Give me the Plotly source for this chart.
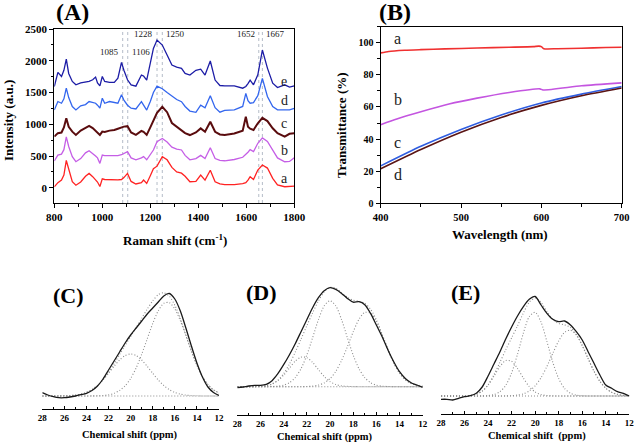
import plotly.graph_objects as go

W, H = 636, 447
SERIF = "Liberation Serif, Times New Roman, serif"

# ---------------- Panel A: Raman spectra ----------------
RAMAN_SHIFT = [800, 815, 830, 840, 850, 860, 875, 890, 910, 930,
               945, 960, 972, 980, 990, 1000, 1010, 1030, 1050, 1065,
               1080, 1090, 1105, 1120, 1140, 1163, 1172, 1185, 1200, 1213,
               1228, 1250, 1270, 1290, 1310, 1330, 1345, 1365, 1390, 1410,
               1428, 1450, 1470, 1490, 1510, 1550, 1585, 1598, 1607, 1616,
               1630, 1648, 1667, 1688, 1710, 1730, 1760, 1780, 1800]
RAMAN_A = [15, 80, 120, 200, 430, 300, 95, 40, 90, 180,
           225, 175, 120, 90, 20, 140, 130, 125, 120, 125,
           130, 160, 226, 100, 60, 80, 121, 68, 190, 300,
           340, 490, 440, 320, 250, 230, 180, 95, 100, 200,
           121, 275, 95, 60, 50, 50, 65, 80, 120, 174,
           130, 279, 358, 310, 147, 45, 16, 20, 26]
RAMAN_B = [421, 515, 530, 600, 800, 650, 490, 410, 460, 550,
           584, 545, 500, 470, 384, 515, 505, 505, 500, 505,
           520, 540, 568, 470, 440, 470, 490, 440, 530, 594,
           726, 775, 720, 640, 610, 595, 510, 440, 460, 510,
           462, 630, 460, 430, 425, 445, 480, 520, 560, 600,
           570, 700, 785, 730, 595, 470, 410, 415, 474]
RAMAN_C = [805, 860, 870, 950, 1095, 960, 884, 832, 900, 950,
           974, 940, 900, 870, 832, 884, 880, 900, 910, 930,
           950, 963, 970, 870, 832, 894, 880, 832, 950, 1066,
           1180, 1276, 1190, 1020, 960, 900, 860, 830, 870, 935,
           882, 1040, 882, 840, 830, 855, 900, 1118, 960, 930,
           910, 1016, 1100, 1050, 937, 858, 805, 850, 858]
RAMAN_D = [1226, 1358, 1331, 1400, 1568, 1420, 1279, 1226, 1290, 1310,
           1358, 1345, 1331, 1300, 1253, 1410, 1331, 1358, 1340, 1331,
           1463, 1380, 1300, 1253, 1240, 1355, 1300, 1224, 1358, 1500,
           1600, 1560, 1500, 1440, 1390, 1355, 1280, 1208, 1187, 1302,
           1260, 1449, 1260, 1190, 1220, 1226, 1280, 1487, 1370, 1331,
           1340, 1450, 1723, 1437, 1279, 1226, 1226, 1226, 1250]
RAMAN_E = [1595, 1816, 1752, 1850, 2026, 1800, 1674, 1621, 1650, 1658,
           1674, 1700, 1742, 1650, 1605, 1752, 1674, 1660, 1660, 1726,
           1974, 1850, 1700, 1621, 1600, 1775, 1760, 1696, 1985, 2195,
           2326, 2247, 2090, 1932, 1900, 1880, 1800, 1775, 1850, 1868,
           1775, 1996, 1696, 1610, 1605, 1605, 1568, 1595, 1640, 1696,
           1621, 1779, 2169, 1884, 1647, 1579, 1621, 1584, 1605]
RAMAN_SERIES = ["a", "b", "c", "d", "e"]
RAMAN_LABEL_Y = [150, 580, 1005, 1380, 1670]
PEAK_POS = [1085, 1106, 1228, 1250, 1652, 1667]
PEAK_LABEL_Y = [2137, 2137, 2421, 2421, 2421, 2421]

# ---------------- Panel B: transmittance ----------------
WL_A = [400, 410, 430, 450, 480, 520, 560, 590, 597, 600, 603, 620, 650, 680, 700]
T_A = [93.7, 94.6, 95.3, 95.7, 96.2, 96.7, 97.2, 97.6, 97.9, 97.6, 96.3, 96.3, 96.6, 97.0, 97.2]
WL_B = [400, 420, 450, 485, 520, 560, 598, 602, 650, 700]
T_B = [49, 52.5, 57, 61.8, 65.5, 69, 71.3, 70.6, 73.2, 75]
WL_CD = [400, 450, 500, 550, 600, 650, 700]
T_C = [23.3, 35.5, 46, 55, 62.5, 68, 72.7]
T_D = [21.5, 33.5, 44.3, 53.5, 61, 67, 71.8]
B_LABEL_X = 421
B_LABEL_Y = [102.4, 64.4, 37.6, 18.2]

# ---------------- Panels C, D, E: 13C NMR ----------------
PPM = [28, 27.5, 27, 26.5, 26, 25.5, 25, 24.5, 24, 23.5, 23, 22.5, 22, 21.5, 21,
       20.5, 20, 19.5, 19, 18.5, 18, 17.5, 17, 16.5, 16, 15.5, 15, 14.5, 14,
       13.5, 13, 12.5, 12]

C_SOLID = [3.3, 1.0, -0.7, -1.7, -1.7, -1.0, 0.0, 1.3, 2.7, 5.5, 10, 17, 26, 35, 44,
           53, 61, 68, 75, 82, 88, 94, 100, 102.5, 97, 85, 68, 50, 33, 19, 9, 3.5, 0.5]
C_P1 = [0, 0, 0, 0, 0.2, 0.4, 0.9, 1.9, 3.6, 6.4, 10.5, 16.1, 22.7, 29.7, 36,
        40.4, 42, 40.4, 36, 29.7, 22.7, 16.1, 10.5, 6.4, 3.6, 1.9, 0.9, 0.4, 0.2, 0, 0, 0, 0]
C_P2 = [0, 0, 0, 0, 0, 0, 0, 0, 0, 0.1, 0.2, 0.5, 1.2, 2.7, 5.5,
        10.2, 17.6, 28.1, 41.7, 57.1, 72.5, 85.2, 92.7, 93.4, 87.2, 75.3, 60.3, 44.6, 30.6,
        19.5, 11.4, 6.2, 3.1]
C_FIT = [0, 0, 0, 0, 0.2, 0.4, 0.9, 1.9, 3.6, 6.5, 10.7, 16.6, 23.9, 32.4, 41.5,
         50.6, 59.6, 68.5, 77.7, 86.8, 95.2, 101.3, 103.2, 99.8, 90.8, 77.2, 61.2, 45, 30.8,
         19.5, 11.4, 6.2, 3.1]

D_SOLID = [-1, -0.3, 0.7, 1.3, 1.3, 2.3, 6, 13, 22, 32, 43, 55, 67, 79, 89,
           96, 99, 97.3, 93.3, 88.3, 84.5, 85, 82, 73.3, 61.7, 50, 36.7, 25, 15,
           8.3, 4, 1.7, -0.7]
D_P1 = [0, 0, 0, 0.1, 0.3, 1, 2.6, 6, 11.5, 18.6, 25.5, 29.6, 29.1, 24.2, 17.1,
        10.2, 5.1, 2.2, 0.8, 0.3, 0.1, 0, 0, 0, 0, 0, 0, 0, 0, 0, 0, 0, 0]
D_P2 = [0, 0, 0, 0, 0, 0, 0.2, 0.5, 1.6, 4, 9.1, 18, 31.6, 49, 67,
        80.8, 86, 80.8, 67, 49, 31.6, 18, 9.1, 4, 1.6, 0.5, 0.2, 0, 0, 0, 0, 0, 0]
D_P3 = [0, 0, 0, 0, 0, 0, 0, 0, 0, 0, 0, 0, 0.2, 0.6, 1.6,
        3.8, 8.1, 15.4, 26.2, 40, 54.8, 67.4, 74.3, 73.5, 65.3, 52, 37.1, 23.8, 13.6,
        7, 3.3, 1.3, 0.5]
D_FIT = [0, 0, 0, 0.1, 0.3, 1, 2.8, 6.5, 13.1, 22.6, 34.6, 47.6, 60.9, 73.8, 85.7,
         94.8, 99.2, 98.4, 94, 89.3, 86.5, 85.4, 83.4, 77.5, 66.9, 52.5, 37.3, 23.8, 13.6,
         7, 3.3, 1.3, 0.5]

E_SOLID = [-3.3, -3.3, -4, -2.3, -0.7, 0.3, 2.7, 9, 20, 32, 44, 57, 69, 80, 89.3,
           96.7, 99.5, 91, 82.7, 76.7, 74.3, 75, 71, 64.3, 56, 44.3, 32.7, 21, 11,
           7.7, 4.3, 2.7, 0]
E_P1 = [0, 0, 0, 0, 0.1, 0.5, 1.7, 4.8, 10.8, 19.8, 29.3, 35.4, 34.7, 27.5, 17.9,
        9.4, 4, 1.4, 0.4, 0.1, 0, 0, 0, 0, 0, 0, 0, 0, 0, 0, 0, 0, 0]
E_P2 = [0, 0, 0, 0, 0, 0, 0, 0.1, 0.4, 1.4, 4.2, 10.7, 23.1, 41.7, 62.9,
        79.3, 83.7, 73.9, 54.5, 33.7, 17.4, 7.5, 2.7, 0.8, 0.2, 0, 0, 0, 0, 0, 0, 0, 0]
E_P3 = [0, 0, 0, 0, 0, 0, 0, 0, 0, 0, 0, 0.1, 0.3, 0.9, 2.2,
        5.1, 10.2, 18.3, 29.6, 42.7, 55.1, 63.7, 65.9, 60.9, 50.4, 37.4, 24.8, 14.7, 7.8,
        3.7, 1.6, 0.6, 0.2]
E_FIT = [0, 0, 0, 0, 0.1, 0.5, 1.7, 4.9, 11.2, 21.2, 33.5, 46.2, 58.1, 70.1, 83,
         93.8, 97.9, 93.6, 84.5, 76.5, 72.5, 71.2, 68.6, 61.7, 50.6, 37.4, 24.8, 14.7, 7.8,
         3.7, 1.6, 0.6, 0.2]
BASELINE_X = [28, 12]
BASELINE_Y = [0, 0]
PPM_TICKS = [28, 26, 24, 22, 20, 18, 16, 14, 12]

# ---------------- figure ----------------
fig = go.Figure()

raman_colors = ["#ff2222", "#c55ee6", "#5a0c0e", "#3366ee", "#1c1ca6"]
raman_widths = [1.3, 1.3, 2.0, 1.3, 1.3]
for ys, col, lw in zip([RAMAN_A, RAMAN_B, RAMAN_C, RAMAN_D, RAMAN_E], raman_colors, raman_widths):
    fig.add_trace(go.Scatter(x=RAMAN_SHIFT, y=ys, mode="lines", xaxis="x", yaxis="y",
                             line=dict(color=col, width=lw), showlegend=False, hoverinfo="skip"))

for wl, t, col in [(WL_A, T_A, "#f03030"), (WL_B, T_B, "#c455e0"),
                   (WL_CD, T_C, "#2f5de0"), (WL_CD, T_D, "#5a1414")]:
    fig.add_trace(go.Scatter(x=wl, y=t, mode="lines", xaxis="x2", yaxis="y2",
                             line=dict(color=col, width=1.6, shape="spline", smoothing=0.6),
                             showlegend=False, hoverinfo="skip"))

dot = dict(color="#8c8c8c", width=1.1, dash="1px,2px", shape="spline", smoothing=0.8)
for ax, solid, parts, fit in [("3", C_SOLID, [C_P1, C_P2], C_FIT),
                              ("4", D_SOLID, [D_P1, D_P2, D_P3], D_FIT),
                              ("5", E_SOLID, [E_P1, E_P2, E_P3], E_FIT)]:
    fig.add_trace(go.Scatter(x=BASELINE_X, y=BASELINE_Y, mode="lines", xaxis="x" + ax, yaxis="y" + ax,
                             line=dict(color="#8c8c8c", width=1.1, dash="1px,2px"),
                             showlegend=False, hoverinfo="skip"))
    for p in parts:
        fig.add_trace(go.Scatter(x=PPM, y=p, mode="lines", xaxis="x" + ax, yaxis="y" + ax,
                                 line=dot, showlegend=False, hoverinfo="skip"))
    fig.add_trace(go.Scatter(x=PPM, y=fit, mode="lines", xaxis="x" + ax, yaxis="y" + ax,
                             line=dot, showlegend=False, hoverinfo="skip"))
    fig.add_trace(go.Scatter(x=PPM, y=solid, mode="lines", xaxis="x" + ax, yaxis="y" + ax,
                             line=dict(color="#1a1a1a", width=1.3, shape="spline", smoothing=0.8),
                             showlegend=False, hoverinfo="skip"))


def px(x):
    return x / W


def py(y):
    return 1 - y / H


tickfont = dict(family=SERIF, size=11, color="black", weight="bold")
box_axis = dict(showline=True, linecolor="black", linewidth=1.2, mirror=True, ticks="outside",
                ticklen=4, tickwidth=1.2, tickcolor="black", showgrid=False, zeroline=False,
                automargin=False, tickfont=tickfont)

layout = dict(
    width=W, height=H, margin=dict(l=0, r=0, t=0, b=0, autoexpand=False),
    paper_bgcolor="white", plot_bgcolor="white",
    xaxis=dict(domain=[px(54.3), px(294.3)], range=[800, 1800], anchor="y",
               tickvals=[800, 1000, 1200, 1400, 1600, 1800],
               minor=dict(ticks="outside", ticklen=2.5, tickcolor="black", dtick=100, tick0=800),
               **box_axis),
    yaxis=dict(domain=[py(203), py(29)], range=[-240, 2500], anchor="x",
               tickvals=[0, 500, 1000, 1500, 2000, 2500],
               minor=dict(ticks="outside", ticklen=2.5, tickcolor="black", dtick=250, tick0=0),
               **box_axis),
    xaxis2=dict(domain=[px(380.7), px(621.7)], range=[400, 700], anchor="y2",
                tickvals=[400, 500, 600, 700],
                minor=dict(ticks="outside", ticklen=2.5, tickcolor="black", dtick=50, tick0=400),
                **{**box_axis, "tickfont": dict(family=SERIF, size=10.5, color="black", weight="bold")}),
    yaxis2=dict(domain=[py(203.3), py(26.7)], range=[0, 110], anchor="x2",
                tickvals=[0, 20, 40, 60, 80, 100],
                minor=dict(ticks="outside", ticklen=2.5, tickcolor="black", dtick=10, tick0=0),
                **{**box_axis, "tickfont": dict(family=SERIF, size=10, color="black", weight="bold")}),
)

lower = [("3", 42.3, 219.0, 409, 280, -13, 116),
         ("4", 237.3, 422.7, 415, 275, -28.3, 111.7),
         ("5", 441.0, 629.3, 414, 280, -18, 116)]
for ax, x0, x1, yb, yt, r0, r1 in lower:
    layout["xaxis" + ax] = dict(domain=[px(x0), px(x1)], range=[28, 12], anchor="y" + ax,
                                showline=True, linecolor="black", linewidth=1.2, ticks="inside",
                                ticklen=3, tickwidth=1, tickcolor="black", tickvals=PPM_TICKS,
                                minor=dict(ticks="inside", ticklen=2, tickcolor="black", dtick=1, tick0=12),
                                showgrid=False, zeroline=False, automargin=False,
                                tickfont=dict(family=SERIF, size=9, color="black", weight="bold"))
    layout["yaxis" + ax] = dict(domain=[py(yb), py(yt)], range=[r0, r1], anchor="x" + ax,
                                visible=False, showgrid=False, zeroline=False, automargin=False)

fig.update_layout(**layout)

shapes = []
for p in PEAK_POS:
    shapes.append(dict(type="line", xref="x", yref="y", x0=p, x1=p, y0=-240, y1=2500,
                       line=dict(color="#b4bcc8", width=1, dash="dot"), layer="below"))
fig.update_layout(shapes=shapes)

ann = []
for i, (p, yv) in enumerate(zip(PEAK_POS, PEAK_LABEL_Y)):
    left = (i % 2 == 0)
    ann.append(dict(x=p, y=yv, xref="x", yref="y", text=str(p), showarrow=False,
                    xanchor="right" if left else "left", xshift=-2 if left else 2,
                    font=dict(family=SERIF, size=9, color="#222")))
for s, yv in zip(RAMAN_SERIES, RAMAN_LABEL_Y):
    ann.append(dict(x=1758, y=yv, xref="x", yref="y", text=s, showarrow=False,
                    font=dict(family=SERIF, size=14, color="#222")))
for s, yv in zip(["a", "b", "c", "d"], B_LABEL_Y):
    ann.append(dict(x=B_LABEL_X, y=yv, xref="x2", yref="y2", text=s, showarrow=False,
                    font=dict(family=SERIF, size=16, color="#222")))


def pa(text, x, y, size, angle=0, weight="bold"):
    return dict(x=px(x), y=py(y), xref="paper", yref="paper", text=text, showarrow=False,
                textangle=angle, xanchor="center", yanchor="middle",
                font=dict(family=SERIF, size=size, color="black", weight=weight))


ann += [
    pa("(A)", 72.5, 12.5, 24), pa("(B)", 395, 12.5, 24),
    pa("(C)", 68.5, 295, 22), pa("(D)", 261.5, 292.5, 22), pa("(E)", 465, 292.5, 22),
    pa("Intensity (a.u.)", 9, 121, 13, -90),
    pa("Raman shift (cm<sup>-1</sup>)", 175, 240, 13),
    pa("Transmittance (%)", 341, 125, 13, -90),
    pa("Wavelength (nm)", 500, 234, 13),
    pa("Chemical shift (ppm)", 130, 435, 10.5),
    pa("Chemical shift (ppm)", 325, 436.5, 10.5),
    pa("Chemical shift  (ppm)", 537, 436, 10.5),
]
fig.update_layout(annotations=ann)

fig.write_html("out.html", config={"displayModeBar": False},
               post_script="document.body.style.margin='0';document.body.style.padding='0';"
                           "document.body.style.overflow='hidden';")
